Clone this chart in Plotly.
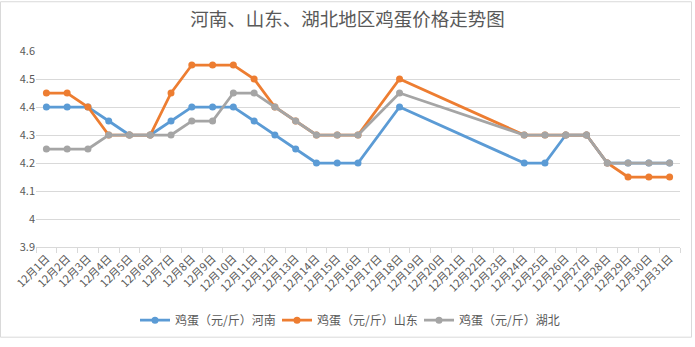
import plotly.graph_objects as go

days = [f"12月{d}日" for d in range(1, 32)]

henan = [4.40, 4.40, 4.40, 4.35, 4.30, 4.30, 4.35, 4.40, 4.40, 4.40, 4.35, 4.30, 4.25, 4.20, 4.20, 4.20,
         None, 4.40, None, None, None, None, None, 4.20, 4.20, 4.30, 4.30, 4.20, 4.20, 4.20, 4.20]
shandong = [4.45, 4.45, 4.40, 4.30, 4.30, 4.30, 4.45, 4.55, 4.55, 4.55, 4.50, 4.40, 4.35, 4.30, 4.30, 4.30,
            None, 4.50, None, None, None, None, None, 4.30, 4.30, 4.30, 4.30, 4.20, 4.15, 4.15, 4.15]
hubei = [4.25, 4.25, 4.25, 4.30, 4.30, 4.30, 4.30, 4.35, 4.35, 4.45, 4.45, 4.40, 4.35, 4.30, 4.30, 4.30,
         None, 4.45, None, None, None, None, None, 4.30, 4.30, 4.30, 4.30, 4.20, 4.20, 4.20, 4.20]

names = ["鸡蛋（元/斤）河南", "鸡蛋（元/斤）山东", "鸡蛋（元/斤）湖北"]
colors = ["#5B9BD5", "#ED7D31", "#A5A5A5"]
series = [henan, shandong, hubei]

FONT = "Noto Sans CJK SC, Microsoft YaHei, sans-serif"

fig = go.Figure()
for name, color, vals in zip(names, colors, series):
    fig.add_trace(go.Scatter(
        x=days, y=vals, name=name, mode="lines+markers",
        connectgaps=True,
        line=dict(color=color, width=2.75),
        marker=dict(color=color, size=7),
    ))

W, H = 695, 347
L, R, T, B = 36, 15, 51, 95
pw, ph = W - L - R, H - T - B

fig.update_layout(
    width=W, height=H,
    margin=dict(l=L, r=R, t=T, b=B),
    paper_bgcolor="white", plot_bgcolor="white",
    font=dict(family=FONT, color="#595959", size=11),
    title=dict(text="河南、山东、湖北地区鸡蛋价格走势图", x=0.5, xanchor="center",
               y=1 - 20 / H, yanchor="middle",
               font=dict(size=18.5, color="#595959", family=FONT)),
    showlegend=True,
    legend=dict(orientation="h", x=0.5 - 10 / pw, xanchor="center", y=-(327 - 252) / ph, yanchor="middle",
                font=dict(size=12, color="#595959"), itemwidth=30, tracegroupgap=0,
                entrywidth=97, entrywidthmode="pixels"),
    xaxis=dict(
        type="category", range=[-0.5, 30.5],
        tickangle=-45, tickson="boundaries", ticks="outside", ticklen=5, tickcolor="#d9d9d9",
        showline=True, linecolor="#d9d9d9", linewidth=1, showgrid=False,
        tickfont=dict(size=11, color="#595959"),
    ),
    yaxis=dict(
        range=[3.9, 4.6], dtick=0.1, tick0=3.9,
        showgrid=True, gridcolor="#d9d9d9", gridwidth=1,
        showline=False, zeroline=False, ticks="",
        tickfont=dict(size=11, color="#595959"),
    ),
    shapes=[dict(type="rect", xref="paper", yref="paper",
                 x0=(-L + 0.5) / pw, x1=(W - L - 3.5) / pw,
                 y0=(-B + 2.5) / ph, y1=(ph + T - 0.5) / ph,
                 line=dict(color="#d9d9d9", width=1), layer="below")],
)

fig.write_html("out.html")
